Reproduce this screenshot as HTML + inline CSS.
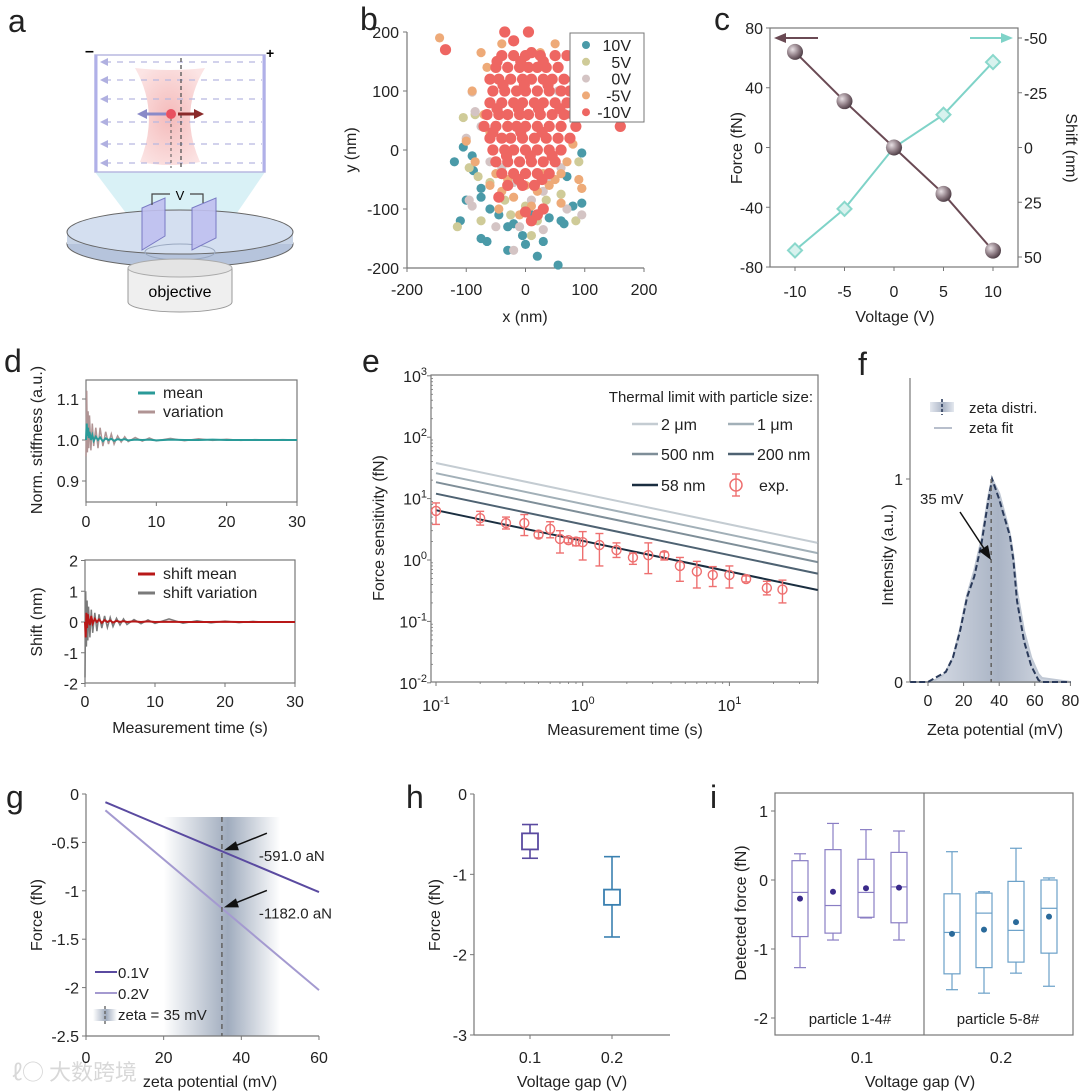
<!DOCTYPE html>
<html><head><meta charset="utf-8">
<style>
html,body{margin:0;padding:0;background:#fff;}
svg{display:block;font-family:"Liberation Sans","Noto Sans CJK SC",sans-serif;}
</style></head>
<body>
<svg id="fig" width="1080" height="1091" viewBox="0 0 1080 1091" xmlns="http://www.w3.org/2000/svg">
<defs>
<linearGradient id="gBand" x1="0" x2="1" y1="0" y2="0">
<stop offset="0" stop-color="#8090a8" stop-opacity="0"/>
<stop offset="0.55" stop-color="#8090a8" stop-opacity="0.75"/>
<stop offset="1" stop-color="#8090a8" stop-opacity="0"/>
</linearGradient>
<linearGradient id="gF" x1="0" x2="1" y1="0" y2="0">
<stop offset="0" stop-color="#e4e8ef"/>
<stop offset="0.55" stop-color="#aab4c5"/>
<stop offset="1" stop-color="#e4e8ef"/>
</linearGradient>
<radialGradient id="gBall" cx="0.35" cy="0.35" r="0.7">
<stop offset="0" stop-color="#e8e0e4"/><stop offset="0.6" stop-color="#8a7880"/><stop offset="1" stop-color="#4a3a42"/>
</radialGradient>
<radialGradient id="gBeam" cx="0.5" cy="0.5" r="0.6">
<stop offset="0" stop-color="#f3b3b3"/><stop offset="1" stop-color="#fbe1e1"/>
</radialGradient>
</defs>
<g>
<polygon points="95,172 265,172 215,245 150,245" fill="#cfeef4" opacity="0.8"/>
<rect x="95" y="55" width="170" height="117" fill="#fff" stroke="#b8b8e0" stroke-width="1.5"/>
<line x1="96" y1="55" x2="96" y2="172" stroke="#b0b0e8" stroke-width="3"/>
<line x1="264" y1="55" x2="264" y2="172" stroke="#b0b0e8" stroke-width="3"/>
<path d="M135,68 Q170,72 205,68 Q178,112 200,162 Q170,168 140,162 Q160,112 135,68Z" fill="url(#gBeam)" opacity="0.9"/>
<g stroke="#b8b8e0" stroke-dasharray="6,6" stroke-width="1.2">
<line x1="105" y1="62" x2="262" y2="62"/><line x1="105" y1="80" x2="262" y2="80"/><line x1="105" y1="99" x2="262" y2="99"/><line x1="105" y1="122" x2="262" y2="122"/><line x1="105" y1="144" x2="262" y2="144"/><line x1="105" y1="163" x2="262" y2="163"/>
</g>
<g fill="#b0b0e0">
<polygon points="100,62 108,58 108,66"/><polygon points="100,80 108,76 108,84"/><polygon points="100,99 108,95 108,103"/><polygon points="100,122 108,118 108,126"/><polygon points="100,144 108,140 108,148"/><polygon points="100,163 108,159 108,167"/>
</g>
<line x1="181" y1="58" x2="181" y2="168" stroke="#555" stroke-dasharray="4,3" stroke-width="1.3"/>
<line x1="171" y1="118" x2="171" y2="168" stroke="#555" stroke-dasharray="3,3" stroke-width="1"/>
<line x1="166" y1="114" x2="145" y2="114" stroke="#8a8ac8" stroke-width="3"/>
<polygon points="137,114 147,109 147,119" fill="#8a8ac8"/>
<line x1="178" y1="114" x2="196" y2="114" stroke="#8a2a2a" stroke-width="3"/>
<polygon points="204,114 194,109 194,119" fill="#8a2a2a"/>
<circle cx="171" cy="114" r="5" fill="#e85060"/>
<text x="85" y="56" font-size="16" font-weight="bold">–</text>
<text x="266" y="58" font-size="14" font-weight="bold">+</text>
<ellipse cx="180" cy="244" rx="113" ry="23" fill="#b6c4dc" stroke="#666"/>
<rect x="67" y="230" width="226" height="14" fill="#c8d4e6"/>
<ellipse cx="180" cy="232" rx="113" ry="22" fill="#d4dff0" stroke="#666"/>
<ellipse cx="180" cy="252" rx="35" ry="8" fill="none" stroke="#9aa8c0"/>
<polygon points="142,208 165,198 165,236 142,250" fill="#c0c0f0" stroke="#7070c0" opacity="0.9"/>
<polygon points="192,208 216,198 216,238 192,250" fill="#c0c0f0" stroke="#7070c0" opacity="0.9"/>
<path d="M152,205 V194 H170 M190,194 H203 V203" fill="none" stroke="#444" stroke-width="1.2"/>
<text x="180" y="200" font-size="13" text-anchor="middle">V</text>
<path d="M128,268 V302 A52,10 0 0 0 232,302 V268" fill="#efefef" stroke="#999"/>
<ellipse cx="180" cy="268" rx="52" ry="9" fill="#e4e4e4" stroke="#aaa"/>
<text x="180" y="297" font-size="16" text-anchor="middle">objective</text>
</g>
<text x="12" y="1080" font-size="22" fill="#d8d8d8" font-family="'Noto Sans CJK SC',sans-serif">ℓ○ 大数跨境</text>
</svg>
<script>
const bTeal=[[-105,5],[-120,-20],[-90,-10],[-88,-35],[-75,-65],[-75,-80],[-100,-85],[-110,-120],[-75,-150],[-65,-155],[-30,-170],[-30,-130],[-5,-145],[0,-160],[20,-180],[30,-155],[55,-195],[60,-120],[65,-125],[80,-95],[95,-90],[95,-5],[-60,-100],[-20,-125],[10,-110],[40,-115],[70,-45],[-45,-110]];
const bOlive=[[-105,55],[-85,60],[-115,-130],[-75,-120],[-80,-45],[-60,-55],[-35,-85],[0,-95],[20,-120],[35,-85],[60,-75],[90,-20],[85,-120],[95,-65],[-25,-110],[10,-145],[-95,-30]];
const bGrey=[[-90,98],[-85,65],[-95,-85],[-90,-95],[-75,40],[-100,20],[-60,-20],[-40,-30],[-20,-55],[10,-85],[30,-70],[45,-50],[60,-30],[70,-100],[95,-110],[-20,-170],[30,-135],[-50,-130],[-10,-130],[70,60],[55,100],[20,-40]];
const bOrange=[[-145,190],[-40,180],[50,180],[-75,165],[25,165],[85,160],[-65,140],[-90,100],[80,120],[-70,60],[-100,15],[-85,-20],[-60,-60],[-40,-70],[-20,-80],[0,-60],[20,-70],[40,-60],[60,-40],[90,-50],[95,-65],[-10,-110],[10,-95],[50,-50],[70,-20],[-30,-50],[-50,-40],[30,-40],[-45,-100],[-60,30],[80,10],[60,-90]];
const bRed=[[-40,160],[-20,160],[0,160],[10,165],[25,160],[50,160],[70,160],[-50,140],[-30,140],[-10,140],[5,140],[20,140],[35,140],[55,140],[-60,120],[-45,120],[-25,120],[-5,120],[10,120],[30,120],[45,120],[65,120],[-55,100],[-35,100],[-15,100],[0,100],[20,100],[40,100],[60,100],[75,100],[-60,80],[-40,80],[-20,80],[-5,80],[15,80],[30,80],[50,80],[70,80],[-65,60],[-45,60],[-30,60],[-10,60],[5,60],[25,60],[45,60],[65,60],[80,60],[-70,40],[-50,40],[-30,40],[-15,40],[0,40],[20,40],[40,40],[60,40],[85,40],[-60,20],[-40,20],[-25,20],[-5,20],[15,20],[35,20],[55,20],[75,20],[-55,0],[-35,0],[-20,0],[0,0],[20,0],[40,0],[60,0],[-50,-20],[-30,-20],[-10,-20],[10,-20],[30,-20],[50,-20],[-40,-40],[-20,-40],[0,-40],[20,-40],[40,-40],[-30,-60],[-5,-60],[15,-60],[-135,170],[-35,200],[5,200],[-20,185],[160,40],[20,-110],[10,-120],[30,-100],[-45,-80],[0,-105],[-48,150],[-8,150],[30,150],[-38,110],[-2,110],[38,110],[-48,70],[-12,70],[22,70],[58,70],[-55,30],[-8,30],[28,30],[-32,-10],[8,-10],[45,-10],[-12,-50],[28,-50]];
const bLabels=["10V","5V","0V","-5V","-10V"];
const bTicks=[-200,-100,0,100,200];
const cVolt=[-10,-5,0,5,10];
const cForce=[64,31,0,-31,-69];
const cShift=[47,28,0,-15,-39];
const cForceTicks=[80,40,0,-40,-80];
const cShiftTicks=[-50,-25,0,25,50];
const dTime=[0,0.1,0.2,0.3,0.4,0.5,0.7,0.9,1.1,1.4,1.7,2,2.4,2.8,3.2,3.6,4,4.5,5,5.5,6,7,8,9,10,12,14,16,18,20,22,24,26,28,30];
const dMean=[1.0,1.04,1.01,1.03,1.005,1.02,1.0,1.012,0.998,1.008,1.0,1.006,0.997,1.004,1.0,1.003,0.998,1.002,1.0,1.002,0.999,1.001,1.0,1.001,0.999,1.001,1.0,1.0,1.001,1.0,1.0,1.0,1.0,1.0,1.0];
const dVar=[0.96,1.12,0.97,1.07,0.98,1.06,0.975,1.04,0.985,1.03,0.98,1.03,0.985,1.02,0.99,1.015,0.99,1.01,0.995,1.008,0.996,1.006,0.997,1.005,0.998,1.004,0.998,1.003,0.999,1.002,0.999,1.001,1.0,1.001,1.0];
const dShiftMean=[0,-0.5,0.3,-0.2,0.25,0.1,-0.1,0.2,-0.05,0.1,0.0,0.08,-0.03,0.06,0.0,0.05,-0.02,0.04,0.0,0.03,0.0,0.02,0,0.02,0,0.01,0,0,0,0.01,0,0,0,0,0];
const dShiftVar=[-1.8,1.0,-0.8,0.7,-0.6,0.5,-0.5,0.4,-0.35,0.3,-0.3,0.25,-0.2,0.2,-0.18,0.15,-0.15,0.12,-0.1,0.1,-0.08,0.08,-0.06,0.07,-0.05,0.1,-0.04,0.04,-0.03,0.03,-0.02,0.02,-0.01,0.01,0];
const eSizes=["2 \u03bcm","1 \u03bcm","500 nm","200 nm","58 nm"];
const eCoef=[12.0,8.2,5.85,3.8,2.05];
const eTime=[0.1,0.2,0.3,0.4,0.5,0.6,0.7,0.8,0.9,1.0,1.3,1.7,2.2,2.8,3.6,4.6,6,7.7,10,13,18,23];
const eVal=[6.3,4.8,4.0,4.0,2.6,3.2,2.2,2.1,2.0,1.95,1.75,1.45,1.1,1.2,1.2,0.8,0.65,0.57,0.57,0.49,0.35,0.33];
const eLo=[3.8,3.7,3.2,2.5,2.3,2.3,1.3,1.9,1.7,1.0,0.8,1.1,0.85,0.6,1.0,0.45,0.35,0.37,0.35,0.44,0.27,0.2];
const eHi=[8.5,6.2,5.0,5.5,2.9,4.2,3.0,2.3,2.3,2.9,2.7,1.9,1.3,1.9,1.35,1.1,0.95,0.78,0.8,0.55,0.45,0.47];
const fZeta=[-10,0,4,6,8,10,14,18,22,26,30,34,36,40,44,46,48,50,54,58,62,64,80];
const fDist=[0,0,0.02,0.03,0.04,0.05,0.12,0.25,0.42,0.52,0.68,0.9,1.0,0.9,0.78,0.72,0.6,0.4,0.2,0.08,0.01,0,0];
const fFit=[0,0,0.01,0.02,0.03,0.05,0.12,0.26,0.43,0.55,0.7,0.92,1.0,0.93,0.8,0.73,0.62,0.45,0.25,0.12,0.04,0.02,0];
const gVolt=["0.1V","0.2V"];
const gSlope=[-0.01689,-0.03377];
const gLabels=["-591.0 aN","-1182.0 aN"];
const gZetaRange=[5,60];
const gMark=35;
const hCats=["0.1","0.2"];
const hLo=[-0.80,-1.78],hQ1=[-0.69,-1.38],hQ3=[-0.49,-1.19],hHi=[-0.38,-0.78];
const iLo=[-1.27,-0.87,-0.55,-0.87,-1.59,-1.64,-1.35,-1.54];
const iQ1=[-0.82,-0.77,-0.54,-0.62,-1.36,-1.27,-1.19,-1.06];
const iMed=[-0.18,-0.37,-0.18,-0.10,-0.76,-0.48,-0.73,-0.41];
const iQ3=[0.28,0.44,0.30,0.40,-0.20,-0.19,-0.02,0.00];
const iHi=[0.38,0.82,0.73,0.71,0.41,-0.17,0.46,0.03];
const iMean=[-0.27,-0.17,-0.12,-0.11,-0.78,-0.72,-0.61,-0.53];

const NS="http://www.w3.org/2000/svg";
const svg=document.getElementById('fig');
function mk(tag,attrs,nm,parent){
  const el=document.createElementNS(NS,tag);
  for(const k in attrs) el.setAttribute(k,attrs[k]);
  
  
  (parent||svg).appendChild(el);
  return el;
}
function txt(x,y,s,size,anchor,nm,extra){
  const a={x:x,y:y,'font-size':size,'text-anchor':anchor||'middle',fill:'#222'};
  if(extra) for(const k in extra) a[k]=extra[k];
  const t=mk('text',a,nm);
  t.textContent=s;
  return t;
}
function vtxt(x,y,s,size,nm,deg){
  return txt(x,y,s,size,'middle',nm,{transform:`rotate(${deg||-90} ${x} ${y})`});
}
function line(x1,y1,x2,y2,col,w,nm,extra){
  const a={x1:x1,y1:y1,x2:x2,y2:y2,stroke:col,'stroke-width':w};
  if(extra) for(const k in extra) a[k]=extra[k];
  return mk('line',a,nm);
}
function poly(pts,col,w,nm,extra){
  const a={points:pts.map(p=>p[0].toFixed(1)+','+p[1].toFixed(1)).join(' '),fill:'none',stroke:col,'stroke-width':w};
  if(extra) for(const k in extra) a[k]=extra[k];
  return mk('polyline',a,nm);
}
const AX='#777';
[['a',8,32],['b',360,30],['c',714,30],['d',4,372],['e',362,372],['f',858,375],['g',6,808],['h',406,808],['i',710,808]].forEach(p=>{
  txt(p[1],p[2],p[0],32,'start','panel-label-'+p[0]);
});

{
const X=v=>525.5+v*0.5925, Y=v=>150-v*0.59;
line(407,32,407,268,AX,1.2,'b-y-axis');
line(407,268,644,268,AX,1.2,'b-x-axis');
bTicks.forEach(t=>{
  line(403,Y(t),407,Y(t),AX,1,'b-y-tick');
  txt(399,Y(t)+6,String(t),16,'end','b-y-tick-label');
  line(X(t),268,X(t),272,AX,1,'b-x-tick');
  txt(X(t),295,String(t),16,'middle','b-x-tick-label');
});
vtxt(356,150,'y (nm)',16,'b-y-axis-title');
txt(525,322,'x (nm)',16,'middle','b-x-axis-title');
const cols=['#4a9aa8','#cfcb98','#d4c4c4','#eeaa78','#ee6662'];
[bTeal,bOlive,bGrey,bOrange,bRed].forEach((s,i)=>{
  s.forEach(p=>{ mk('circle',{cx:X(p[0]),cy:Y(p[1]),r:i==4?5.6:4.6,fill:cols[i]},'b-point-'+bLabels[i]); });
});
mk('rect',{x:570,y:33,width:74,height:89,fill:'#fff',stroke:'#777'},'b-legend-box');
bLabels.forEach((l,i)=>{
  const y=45+i*16.8;
  mk('circle',{cx:586,cy:y,r:4,fill:cols[i]},'b-legend-marker');
  txt(631,y+6,l,16,'end','b-legend-entry');
});
}

{
const X=v=>894+v*9.9, YF=v=>147.5-v*1.494, YS=v=>147.5+v*2.19;
mk('rect',{x:770,y:28,width:248,height:239,fill:'none',stroke:AX,'stroke-width':1.2},'c-plot-frame');
cForceTicks.forEach(t=>{ line(766,YF(t),770,YF(t),AX,1,'c-left-tick'); txt(763,YF(t)+6,String(t),16,'end','c-left-tick-label'); });
cShiftTicks.forEach(t=>{ line(1018,YS(t),1022,YS(t),AX,1,'c-right-tick'); txt(1024,YS(t)+6,String(t),16,'start','c-right-tick-label'); });
cVolt.forEach(t=>{ line(X(t),267,X(t),271,AX,1,'c-x-tick'); txt(X(t),297,String(t),16,'middle','c-x-tick-label'); });
vtxt(742,148,'Force (fN)',16,'c-left-axis-title');
vtxt(1066,148,'Shift (nm)',16,'c-right-axis-title',90);
txt(895,322,'Voltage (V)',16,'middle','c-x-axis-title');
poly(cVolt.map((v,i)=>[X(v),YS(cShift[i])]),'#7fd3c8',2,'c-shift-line');
poly(cVolt.map((v,i)=>[X(v),YF(cForce[i])]),'#6a4a54',2,'c-force-line');
cVolt.forEach((v,i)=>{
  const x=X(v),y=YS(cShift[i]);
  mk('polygon',{points:`${x},${y-7} ${x+7},${y} ${x},${y+7} ${x-7},${y}`,fill:'#d8f2ee',stroke:'#8ad8cc','stroke-width':2},'c-shift-marker');
});
cVolt.forEach((v,i)=>{ mk('circle',{cx:X(v),cy:YF(cForce[i]),r:8,fill:'url(#gBall)'},'c-force-marker'); });
line(818,38,782,38,'#6a4a54',2,'c-left-arrow');
mk('polygon',{points:'774,38 786,33 786,43',fill:'#6a4a54'},'c-left-arrow-head');
line(970,38,1004,38,'#7fd3c8',2,'c-right-arrow');
mk('polygon',{points:'1013,38 1001,33 1001,43',fill:'#7fd3c8'},'c-right-arrow-head');
}

{
const X=v=>86+v*7.033, Y=v=>440-(v-1)*410;
mk('rect',{x:86,y:380,width:211,height:122,fill:'none',stroke:AX,'stroke-width':1.2},'d-top-frame');
[1.1,1.0,0.9].forEach(t=>{ line(82,Y(t),86,Y(t),AX,1,'d-top-y-tick'); txt(79,Y(t)+6,t.toFixed(1),16,'end','d-top-y-tick-label'); });
[0,10,20,30].forEach(t=>{ line(X(t),502,X(t),506,AX,1,'d-top-x-tick'); txt(X(t),527,String(t),16,'middle','d-top-x-tick-label'); });
vtxt(42,440,'Norm. stiffness (a.u.)',16,'d-top-y-axis-title');
const clip=v=>Math.max(0.86,Math.min(1.14,v));
poly(dTime.map((t,i)=>[X(t),Y(clip(dVar[i]))]),'#b09494',1.5,'d-variation-line');
poly(dTime.map((t,i)=>[X(t),Y(dMean[i])]),'#2a9a98',2,'d-mean-line');
line(138,393,155,393,'#2a9a98',3,'d-legend-mean-swatch');
txt(163,398,'mean',16,'start','d-legend-mean');
line(138,412,155,412,'#b09494',3,'d-legend-variation-swatch');
txt(163,417,'variation',16,'start','d-legend-variation');
const Y2=v=>622-v*30.75;
mk('rect',{x:85,y:560,width:210,height:123,fill:'none',stroke:AX,'stroke-width':1.2},'d-bottom-frame');
[2,1,0,-1,-2].forEach(t=>{ line(81,Y2(t),85,Y2(t),AX,1,'d-bottom-y-tick'); txt(78,Y2(t)+6,String(t),16,'end','d-bottom-y-tick-label'); });
const X2=v=>85+v*7;
[0,10,20,30].forEach(t=>{ line(X2(t),683,X2(t),687,AX,1,'d-bottom-x-tick'); txt(X2(t),707,String(t),16,'middle','d-bottom-x-tick-label'); });
vtxt(42,622,'Shift (nm)',16,'d-bottom-y-axis-title');
txt(190,733,'Measurement time (s)',16,'middle','d-x-axis-title');
poly(dTime.map((t,i)=>[X2(t),Y2(dShiftVar[i])]),'#7a7a7a',1.5,'d-shift-variation-line');
poly(dTime.map((t,i)=>[X2(t),Y2(dShiftMean[i])]),'#b81818',2,'d-shift-mean-line');
line(138,574,155,574,'#b81818',3,'d-legend-shift-mean-swatch');
txt(163,579,'shift mean',16,'start','d-legend-shift-mean');
line(138,593,155,593,'#7a7a7a',3,'d-legend-shift-variation-swatch');
txt(163,598,'shift variation',16,'start','d-legend-shift-variation');
}

{
const X=v=>436+Math.log10(v/0.1)*146.7, Y=v=>560-Math.log10(v)*61.4;
mk('rect',{x:431,y:375,width:387,height:307,fill:'none',stroke:AX,'stroke-width':1.2},'e-plot-frame');
[3,2,1,0,-1,-2].forEach(p=>{
  const y=Y(Math.pow(10,p));
  line(427,y,431,y,AX,1,'e-y-tick');
  const t=txt(414,y+6,'10',16,'end','e-y-tick-label');
  const s=document.createElementNS(NS,'tspan'); s.setAttribute('dy','-7'); s.setAttribute('font-size','11'); s.textContent=String(p); t.appendChild(s);
  t.setAttribute('x',427);
  if(p<3){ for(let k=2;k<10;k++){ const yy=Y(k*Math.pow(10,p)); if(yy>375) line(431,yy,433,yy,AX,0.8,'e-y-minor-tick'); } }
});
[-1,0,1].forEach(p=>{
  const x=X(Math.pow(10,p));
  line(x,682,x,686,AX,1,'e-x-tick');
  const t=txt(x,711,'10',16,'middle','e-x-tick-label');
  const s=document.createElementNS(NS,'tspan'); s.setAttribute('dy','-7'); s.setAttribute('font-size','11'); s.textContent=String(p); t.appendChild(s);
});
for(let p=-1;p<=1;p++) for(let k=2;k<10;k++){ const v=k*Math.pow(10,p); if(X(v)<818){ line(X(v),682,X(v),684,AX,0.8,'e-x-minor-tick'); } }
vtxt(384,528,'Force sensitivity (fN)',16,'e-y-axis-title');
txt(625,735,'Measurement time (s)',16,'middle','e-x-axis-title');
const lcol=['#c4ccd2','#a2b0b8','#7e8e98','#4e6272','#1a2e40'];
eCoef.forEach((a,i)=>{ poly([[X(0.1),Y(a/Math.sqrt(0.1))],[X(40),Y(a/Math.sqrt(40))]],lcol[i],2,'e-line-'+eSizes[i].replace(/\s/g,'')); });
eTime.forEach((t,i)=>{
  const x=X(t);
  line(x,Y(eLo[i]),x,Y(eHi[i]),'#ee7070',1.4,'e-errorbar');
  line(x-4,Y(eLo[i]),x+4,Y(eLo[i]),'#ee7070',1.4,'e-errorbar-cap');
  line(x-4,Y(eHi[i]),x+4,Y(eHi[i]),'#ee7070',1.4,'e-errorbar-cap');
  mk('circle',{cx:x,cy:Y(eVal[i]),r:4.5,fill:'none',stroke:'#ee7070','stroke-width':1.4},'e-exp-point');
});
txt(813,402,'Thermal limit with particle size:',15,'end','e-legend-title');
const pos=[[632,424],[728,424],[632,454],[728,454],[632,485]];
eSizes.forEach((s,i)=>{
  line(pos[i][0],pos[i][1],pos[i][0]+26,pos[i][1],lcol[i],2.5,'e-legend-swatch');
  txt(pos[i][0]+29,pos[i][1]+6,s,16,'start','e-legend-entry');
});
line(736,474,736,496,'#ee7070',1.4,'e-legend-exp-bar');
line(732,474,740,474,'#ee7070',1.4,'e-legend-exp-cap');
line(732,496,740,496,'#ee7070',1.4,'e-legend-exp-cap');
mk('circle',{cx:736,cy:485,r:6,fill:'none',stroke:'#ee7070','stroke-width':1.5},'e-legend-exp-marker');
txt(759,491,'exp.',16,'start','e-legend-exp');
}

{
const X=v=>928+v*1.78, Y=v=>682-v*203;
const fitPts=fZeta.map((z,i)=>[X(z),Y(fFit[i])]);
mk('polygon',{points:fitPts.map(p=>p.join(',')).join(' '),fill:'url(#gF)',stroke:'#c0c8d4','stroke-width':2},'f-fit-area');
line(910,378,910,682,AX,1.2,'f-y-axis');
line(910,682,1071,682,AX,1.2,'f-x-axis');
[0,1].forEach(t=>{ line(906,Y(t),910,Y(t),AX,1,'f-y-tick'); txt(903,Y(t)+6,String(t),16,'end','f-y-tick-label'); });
[0,20,40,60,80].forEach(t=>{ line(X(t),682,X(t),686,AX,1,'f-x-tick'); txt(X(t),706,String(t),16,'middle','f-x-tick-label'); });
vtxt(893,555,'Intensity (a.u.)',16,'f-y-axis-title');
txt(995,735,'Zeta potential (mV)',16,'middle','f-x-axis-title');
poly(fZeta.map((z,i)=>[X(z),Y(fDist[i])]),'#2a3a5a',2,'f-distribution-line',{'stroke-dasharray':'6,3'});
line(X(35.5),Y(1),X(35.5),682,'#666',1.6,'f-peak-line',{'stroke-dasharray':'4,4'});
txt(920,504,'35 mV',15,'start','f-peak-annotation');
line(960,512,985,550,'#111',1.5,'f-annotation-arrow');
mk('polygon',{points:'991,560 979,551 988,545',fill:'#111'},'f-annotation-arrowhead');
mk('rect',{x:930,y:402,width:24,height:10,fill:'url(#gF)'},'f-legend-distri-swatch');
line(942,399,942,415,'#2a3a5a',1.6,'f-legend-distri-line',{'stroke-dasharray':'3,2'});
txt(969,413,'zeta distri.',15,'start','f-legend-distri');
line(934,428,952,428,'#a0aabb',1.6,'f-legend-fit-line');
txt(969,433,'zeta fit',15,'start','f-legend-fit');
}

{
const X=v=>86+v*3.883, Y=v=>794-v*96.8;
mk('rect',{x:X(20),y:817,width:X(50)-X(20),height:219,fill:'url(#gBand)'},'g-zeta-band');
line(86,794,86,1036,AX,1.2,'g-y-axis');
line(86,1036,319,1036,AX,1.2,'g-x-axis');
[0,-0.5,-1,-1.5,-2,-2.5].forEach(t=>{ line(82,Y(t),86,Y(t),AX,1,'g-y-tick'); txt(79,Y(t)+6,String(t),16,'end','g-y-tick-label'); });
[0,20,40,60].forEach(t=>{ line(X(t),1036,X(t),1040,AX,1,'g-x-tick'); txt(X(t),1063,String(t),16,'middle','g-x-tick-label'); });
vtxt(42,915,'Force (fN)',16,'g-y-axis-title');
txt(210,1087,'zeta potential (mV)',16,'middle','g-x-axis-title');
const gc=['#5a4aa0','#a49ad0'];
gSlope.forEach((s,i)=>{ poly(gZetaRange.map(z=>[X(z),Y(s*z)]),gc[i],2,'g-line-'+gVolt[i]); });
line(X(gMark),817,X(gMark),1036,'#666',1.6,'g-zeta-line',{'stroke-dasharray':'5,4'});
gSlope.forEach((s,i)=>{
  const x=X(gMark),y=Y(s*gMark);
  line(x+45,y-18,x+10,y-4,'#111',1.5,'g-annotation-arrow');
  mk('polygon',{points:`${x+2},${y-1} ${x+14},${y-10} ${x+17},${y-1}`,fill:'#111'},'g-annotation-arrowhead');
  txt(x+37,y+10,gLabels[i],15,'start','g-annotation-label');
});
line(95,972,117,972,gc[0],2,'g-legend-swatch-0.1V');
txt(118,978,'0.1V',15,'start','g-legend-0.1V');
line(95,993,117,993,gc[1],2,'g-legend-swatch-0.2V');
txt(118,999,'0.2V',15,'start','g-legend-0.2V');
mk('rect',{x:93,y:1009,width:24,height:12,fill:'url(#gBand)'},'g-legend-zeta-swatch');
line(105,1006,105,1024,'#666',1.4,'g-legend-zeta-line',{'stroke-dasharray':'3,2'});
txt(118,1020,'zeta = 35 mV',15,'start','g-legend-zeta');
}

{
const Y=v=>794-v*80.33, xs=[530,612];
line(474,794,474,1035,AX,1.2,'h-y-axis');
line(474,1035,670,1035,AX,1.2,'h-x-axis');
[0,-1,-2,-3].forEach(t=>{ line(470,Y(t),474,Y(t),AX,1,'h-y-tick'); txt(467,Y(t)+6,String(t),16,'end','h-y-tick-label'); });
hCats.forEach((c,i)=>{ line(xs[i],1035,xs[i],1039,AX,1,'h-x-tick'); txt(xs[i],1063,c,16,'middle','h-x-tick-label'); });
vtxt(440,915,'Force (fN)',16,'h-y-axis-title');
txt(572,1087,'Voltage gap (V)',16,'middle','h-x-axis-title');
const hc=['#5a4aa0','#3a80b0'];
hCats.forEach((c,i)=>{
  const x=xs[i];
  line(x,Y(hHi[i]),x,Y(hLo[i]),hc[i],1.6,'h-whisker-'+c);
  line(x-8,Y(hHi[i]),x+8,Y(hHi[i]),hc[i],1.6,'h-cap-'+c);
  line(x-8,Y(hLo[i]),x+8,Y(hLo[i]),hc[i],1.6,'h-cap-'+c);
  mk('rect',{x:x-8,y:Y(hQ3[i]),width:16,height:Y(hQ1[i])-Y(hQ3[i]),fill:'#fff',stroke:hc[i],'stroke-width':1.8},'h-box-'+c);
});
}

{
const Y=v=>880-v*69, xs=[800,833,866,899,952,984,1016,1049];
mk('rect',{x:775,y:793,width:298,height:242,fill:'none',stroke:AX,'stroke-width':1.2},'i-plot-frame');
line(924,793,924,1035,AX,1.2,'i-group-divider');
[1,0,-1,-2].forEach(t=>{ line(771,Y(t),775,Y(t),AX,1,'i-y-tick'); txt(768,Y(t)+6,String(t),16,'end','i-y-tick-label'); });
txt(862,1063,'0.1',16,'middle','i-x-tick-label');
txt(1001,1063,'0.2',16,'middle','i-x-tick-label');
vtxt(746,913,'Detected force (fN)',16,'i-y-axis-title');
txt(920,1087,'Voltage gap (V)',16,'middle','i-x-axis-title');
txt(850,1024,'particle 1-4#',15,'middle','i-group-label-1');
txt(998,1024,'particle 5-8#',15,'middle','i-group-label-2');
xs.forEach((x,i)=>{
  const c=i<4?'#8a7ec4':'#6aa0c8', m=i<4?'#3a2a8a':'#2a6a9a';
  line(x,Y(iHi[i]),x,Y(iQ3[i]),c,1.2,'i-whisker-upper');
  line(x,Y(iQ1[i]),x,Y(iLo[i]),c,1.2,'i-whisker-lower');
  line(x-6,Y(iHi[i]),x+6,Y(iHi[i]),c,1.2,'i-cap-upper');
  line(x-6,Y(iLo[i]),x+6,Y(iLo[i]),c,1.2,'i-cap-lower');
  mk('rect',{x:x-8,y:Y(iQ3[i]),width:16,height:Y(iQ1[i])-Y(iQ3[i]),fill:'none',stroke:c,'stroke-width':1.2},'i-box');
  line(x-8,Y(iMed[i]),x+8,Y(iMed[i]),c,1.2,'i-median');
  mk('circle',{cx:x,cy:Y(iMean[i]),r:3,fill:m},'i-mean-point');
});
}
</script>
</body></html>
